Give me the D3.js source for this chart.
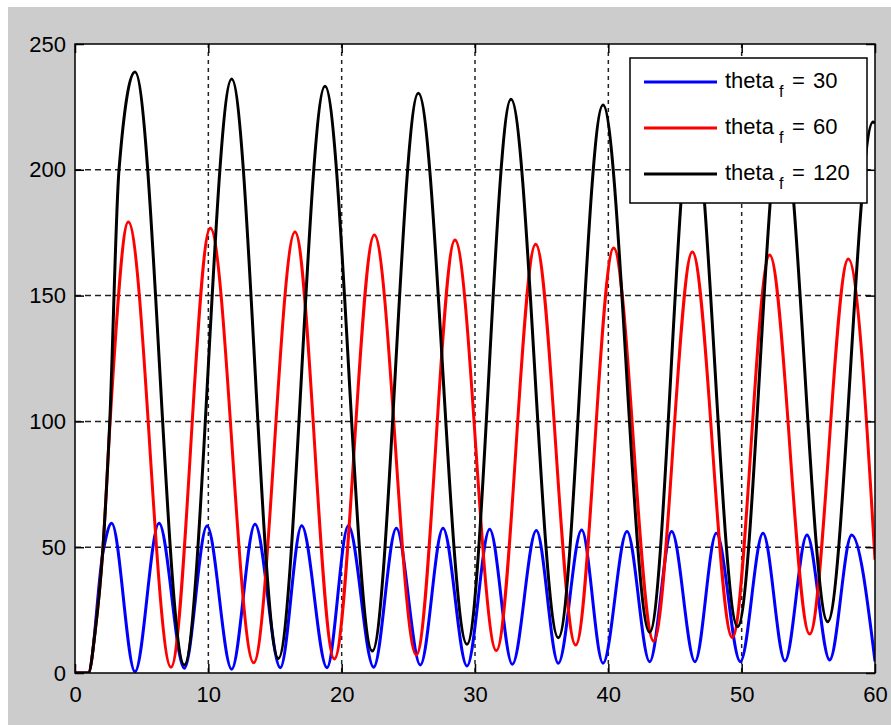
<!DOCTYPE html>
<html>
<head>
<meta charset="utf-8">
<script src="https://cdn.jsdelivr.net/npm/d3@7"></script>
<style>
  html, body { margin: 0; padding: 0; background: #ffffff; }
  svg { display: block; }
  text { font-family: "Liberation Sans", Arial, sans-serif; }
</style>
</head>
<body>
<svg id="chart" width="891" height="725"></svg>
<script>
// ---- data ----
const xTicks = [0, 10, 20, 30, 40, 50, 60];
const yTicks = [0, 50, 100, 150, 200, 250];
const legendValues = [30, 60, 120];
const seriesColors = ["#0000ff", "#ff0000", "#000000"];

const blueX = [0, 1.0, 2.1, 2.75, 4.5, 6.3, 8.2, 9.9, 11.75, 13.5, 15.4, 17.0, 18.9, 20.5, 22.4, 24.1, 25.9, 27.6, 29.4, 31.1, 32.8, 34.6, 36.25, 38.0, 39.6, 41.4, 43.1, 44.75, 46.5, 48.1, 49.9, 51.6, 53.25, 54.9, 56.6, 58.25, 60];
const blueY = [0, 0, 48, 59.5, 0.5, 59.5, 1.9, 58.4, 1.5, 59.1, 2.1, 58.5, 2.1, 58.5, 2.3, 57.5, 3.2, 57.5, 2.8, 57.1, 3.5, 56.6, 3.9, 56.8, 3.9, 56.2, 4.5, 56.2, 4.5, 55.5, 4.5, 55.5, 4.8, 54.8, 5.2, 54.8, 4.6];

const redX = [0, 1.0, 1.5, 2.1, 2.6, 2.75, 4.0, 7.2, 10.15, 13.4, 16.5, 19.45, 22.45, 25.6, 28.5, 31.6, 34.55, 37.55, 40.4, 43.4, 46.3, 49.3, 52.1, 55.1, 58.0, 60];
const redY = [0, 0, 16, 50, 97, 110, 179.3, 2.3, 176.8, 4.1, 175.3, 5.6, 174.1, 7.2, 172.1, 8.9, 170.4, 11.1, 168.9, 12.7, 167.3, 14.1, 166.1, 15.5, 164.5, 45];

const blackX = [0, 1.0, 1.5, 2.1, 2.6, 3.3, 4.5, 8.2, 11.75, 15.25, 18.75, 22.3, 25.75, 29.4, 32.7, 36.25, 39.6, 43.1, 46.3, 49.7, 53.0, 56.45, 59.85, 60];
const blackY = [0, 0, 16, 50, 99, 200, 238.9, 3.2, 236.1, 5.8, 233.2, 8.7, 230.4, 11.4, 228, 14.0, 225.8, 16.2, 223.5, 18.4, 221.2, 20.4, 219, 218.5];

const seriesX = [blueX, redX, blackX];
const seriesY = [blueY, redY, blackY];

// ---- layout ----
const svg = d3.select("#chart");
const W = 891, H = 725;
const plot = { left: 75, top: 44, right: 875, bottom: 673 };

svg.append("rect").attr("x", 8).attr("y", 7).attr("width", W - 8).attr("height", H - 7).attr("fill", "#cccccc");
svg.append("rect")
  .attr("x", plot.left).attr("y", plot.top)
  .attr("width", plot.right - plot.left).attr("height", plot.bottom - plot.top)
  .attr("fill", "#ffffff");

const x = d3.scaleLinear().domain([0, 60]).range([plot.left, plot.right]);
const y = d3.scaleLinear().domain([0, 250]).range([plot.bottom, plot.top]);

// grid
const grid = svg.append("g");
grid.selectAll("line.gx").data(xTicks.filter(d => d > 0 && d < 60)).enter().append("line")
  .attr("x1", d => x(d)).attr("x2", d => x(d)).attr("y1", plot.top).attr("y2", plot.bottom)
  .attr("stroke", "#222").attr("stroke-width", 1.5).attr("stroke-dasharray", "4,4");
grid.selectAll("line.gy").data(yTicks.filter(d => d > 0 && d < 250)).enter().append("line")
  .attr("y1", d => y(d)).attr("y2", d => y(d)).attr("x1", plot.left).attr("x2", plot.right)
  .attr("stroke", "#222").attr("stroke-width", 1.5).attr("stroke-dasharray", "6,4");

// series
const line = d3.line().curve(d3.curveMonotoneX).x(d => x(d[0])).y(d => y(d[1]));
const clipId = "plotclip";
svg.append("clipPath").attr("id", clipId).append("rect")
  .attr("x", plot.left).attr("y", plot.top)
  .attr("width", plot.right - plot.left).attr("height", plot.bottom - plot.top);
const lines = svg.append("g").attr("clip-path", `url(#${clipId})`);
seriesX.forEach((xs, i) => {
  const pts = xs.map((xv, j) => [xv, seriesY[i][j]]);
  lines.append("path").attr("d", line(pts))
    .attr("fill", "none").attr("stroke", seriesColors[i])
    .attr("stroke-width", 3).attr("stroke-linejoin", "round");
});

// axes (MATLAB style: inward ticks on all sides)
const tickLen = 9;
const fs = 22;
const axB = svg.append("g").attr("transform", `translate(0,${plot.bottom})`)
  .call(d3.axisBottom(x).tickValues(xTicks).tickSize(-tickLen).tickPadding(13).tickFormat(d3.format("d")));
const axT = svg.append("g").attr("transform", `translate(0,${plot.top})`)
  .call(d3.axisTop(x).tickValues(xTicks).tickSize(-tickLen).tickFormat(""));
const axL = svg.append("g").attr("transform", `translate(${plot.left},0)`)
  .call(d3.axisLeft(y).tickValues(yTicks).tickSize(-tickLen).tickPadding(9).tickFormat(d3.format("d")));
const axR = svg.append("g").attr("transform", `translate(${plot.right},0)`)
  .call(d3.axisRight(y).tickValues(yTicks).tickSize(-tickLen).tickFormat(""));
[axB, axT, axL, axR].forEach(a => {
  a.select(".domain").remove();
  a.selectAll(".tick line").attr("stroke", "#000").attr("stroke-width", 1.5);
  a.selectAll(".tick text").attr("fill", "#000").attr("font-size", fs)
    .attr("font-family", "'Liberation Sans', Arial, sans-serif");
});
axB.selectAll(".tick text").attr("dy", "0.71em");

svg.append("rect")
  .attr("x", plot.left).attr("y", plot.top)
  .attr("width", plot.right - plot.left).attr("height", plot.bottom - plot.top)
  .attr("fill", "none").attr("stroke", "#000").attr("stroke-width", 1.5);

// legend
const lg = { x: 630, y: 58, w: 237, h: 145 };
const legend = svg.append("g");
legend.append("rect").attr("x", lg.x).attr("y", lg.y).attr("width", lg.w).attr("height", lg.h)
  .attr("fill", "#ffffff").attr("stroke", "#000").attr("stroke-width", 1.5);
const rowY = [82, 128, 174];
legendValues.forEach((v, i) => {
  legend.append("line").attr("x1", 644).attr("x2", 717).attr("y1", rowY[i]).attr("y2", rowY[i])
    .attr("stroke", seriesColors[i]).attr("stroke-width", 3);
  const t = legend.append("text").attr("x", 725).attr("y", rowY[i] + 6)
    .attr("font-size", 22).attr("fill", "#000");
  t.append("tspan").text("theta");
  t.append("tspan").attr("x", 779).attr("dy", 9).attr("font-size", 16).text("f");
  t.append("tspan").attr("x", 792).attr("dy", -9).text("=");
  t.append("tspan").attr("x", 813).text(String(v));
});
</script>
</body>
</html>
